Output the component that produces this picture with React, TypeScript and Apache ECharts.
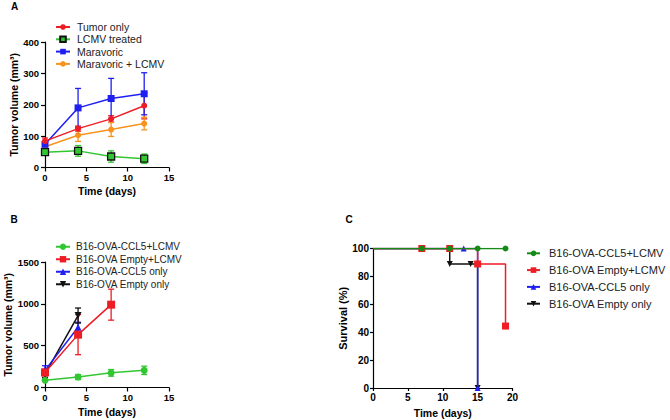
import React, { useEffect, useRef } from "react";
import * as echarts from "echarts";

// ---------- Panel A ----------
const daysA = [0, 4, 8, 12];
const tumorOnly = [84, 124, 155, 197];
const tumorOnlyErr = [10, 8, 10, 42];
const lcmvTreated = [49, 53, 35, 28];
const lcmvTreatedErr = [10, 17, 18, 15];
const maravoric = [74, 190, 220, 235];
const maravoricErr = [8, 62, 64, 67];
const maravoricLcmv = [66, 103, 121, 140];
const maravoricLcmvErr = [8, 20, 22, 20];

// ---------- Panel B ----------
const ccl5LcmvDays = [0, 4, 8, 12];
const ccl5Lcmv = [87, 125, 175, 205];
const ccl5LcmvErr = [15, 30, 40, 50];
const emptyLcmvDays = [0, 4, 8];
const emptyLcmv = [180, 632, 990];
const emptyLcmvErr = [40, 240, 185];
const ccl5OnlyDays = [0, 4];
const ccl5Only = [205, 720];
const ccl5OnlyErr = [55, 60];
const emptyOnlyDays = [0, 4];
const emptyOnly = [160, 860];
const emptyOnlyErr = [40, 90];

// ---------- Panel C (survival) ----------
const survCcl5LcmvT = [0, 7, 11, 15, 19];
const survCcl5Lcmv = [100, 100, 100, 100, 100];
const survEmptyLcmvT = [0, 7, 11, 15, 19];
const survEmptyLcmv = [100, 100, 100, 88.9, 44.4];
const survCcl5OnlyT = [0, 13, 15];
const survCcl5Only = [100, 100, 0];
const survEmptyOnlyT = [0, 11, 14, 15];
const survEmptyOnly = [100, 88.9, 88.9, 0];

const legendA = ["Tumor only", "LCMV treated", "Maravoric", "Maravoric + LCMV"];
const legendB = ["B16-OVA-CCL5+LCMV", "B16-OVA Empty+LCMV", "B16-OVA-CCL5 only", "B16-OVA Empty only"];
const legendC = legendB.map((n) => "C:" + n);

const RED = "#ee1c24";
const BLUE = "#1f1ff2";
const ORANGE = "#f7931e";
const GREEN = "#33c633";
const DGREEN = "#168a16";
const BLACK = "#111111";
const FONT = "Liberation Sans, Arial, sans-serif";

function pairs(xs: number[], ys: number[]) {
  return xs.map((x, i) => [x, ys[i]]);
}

function errSeries(xi: number, xs: number[], ys: number[], es: number[], color: string) {
  return {
    type: "custom",
    xAxisIndex: xi,
    yAxisIndex: xi,
    silent: true,
    z: 1,
    data: xs.map((x, i) => [x, ys[i] - es[i], ys[i] + es[i]]),
    renderItem: (_p: any, api: any) => {
      const x = api.value(0);
      const lo = api.coord([x, api.value(1)]);
      const hi = api.coord([x, api.value(2)]);
      const w = 3;
      const st = { stroke: color, lineWidth: 1.3 };
      return {
        type: "group",
        children: [
          { type: "line", shape: { x1: hi[0], y1: hi[1], x2: lo[0], y2: lo[1] }, style: st },
          { type: "line", shape: { x1: hi[0] - w, y1: hi[1], x2: hi[0] + w, y2: hi[1] }, style: st },
          { type: "line", shape: { x1: lo[0] - w, y1: lo[1], x2: lo[0] + w, y2: lo[1] }, style: st },
        ],
      };
    },
  };
}

function lineSeries(xi: number, name: string, xs: number[], ys: number[], color: string, symbol: string, size: number, extra: any = {}) {
  return {
    type: "line",
    name,
    xAxisIndex: xi,
    yAxisIndex: xi,
    data: pairs(xs, ys),
    symbol,
    symbolSize: size,
    showSymbol: true,
    lineStyle: { color, width: 1.5 },
    itemStyle: { color },
    z: 2,
    ...extra,
  };
}

function survSeries(name: string, xs: number[], ys: number[], markIdx: number[], color: string, symbol: string, size: number, z: number, extra: any = {}) {
  return {
    type: "line",
    name,
    xAxisIndex: 2,
    yAxisIndex: 2,
    step: "end",
    data: xs.map((x, i) => ({ value: [x, ys[i]], symbol: markIdx.includes(i) ? symbol : "none" })),
    symbol,
    symbolSize: size,
    lineStyle: { color, width: 1.5 },
    itemStyle: { color },
    z,
    ...extra,
  };
}

const plain = (v: number) => String(v);

const axisCommon = {
  axisLine: { show: true, onZero: false, lineStyle: { color: "#000", width: 1.2 } },
  axisTick: { show: true, length: 4, lineStyle: { color: "#000", width: 1.2 } },
  splitLine: { show: false },
  axisLabel: { color: "#000", fontWeight: "bold", fontSize: 9.5, fontFamily: FONT, formatter: plain },
  nameTextStyle: { color: "#000", fontWeight: "bold", fontSize: 10.5, fontFamily: FONT },
  nameLocation: "middle",
};

export default function App() {
  const ref = useRef<HTMLDivElement>(null);
  useEffect(() => {
    if (!ref.current) return;
    const chart = echarts.init(ref.current, undefined, { renderer: "svg" });
    const legText = (size: number, lh: number, pad: number) => ({
      color: "#222",
      fontSize: size,
      fontFamily: FONT,
      lineHeight: lh,
      padding: [0, 0, 0, pad],
    });
    chart.setOption({
      animation: false,
      backgroundColor: "#fff",
      grid: [
        { left: 45, top: 42, width: 124, height: 125.5 },
        { left: 45, top: 262, width: 124, height: 125.5 },
        { left: 373, top: 248.5, width: 139.5, height: 139.5 },
      ],
      xAxis: [
        { ...axisCommon, type: "value", gridIndex: 0, min: 0, max: 15, interval: 5, name: "Time (days)", nameGap: 18, axisLabel: { ...axisCommon.axisLabel, margin: 5 } },
        { ...axisCommon, type: "value", gridIndex: 1, min: 0, max: 15, interval: 5, name: "Time (days)", nameGap: 19, axisLabel: { ...axisCommon.axisLabel, margin: 5 } },
        { ...axisCommon, type: "value", gridIndex: 2, min: 0, max: 20, interval: 5, name: "Time (days)", nameGap: 19, axisTick: { ...axisCommon.axisTick, length: 3 }, axisLabel: { ...axisCommon.axisLabel, fontSize: 10, margin: 4 }, nameTextStyle: { ...axisCommon.nameTextStyle, fontSize: 10.5 } },
      ],
      yAxis: [
        { ...axisCommon, type: "value", gridIndex: 0, min: 0, max: 400, interval: 100, name: "Tumor volume (mm³)", nameGap: 23, axisLabel: { ...axisCommon.axisLabel, margin: 6 } },
        { ...axisCommon, type: "value", gridIndex: 1, min: 0, max: 1500, interval: 500, name: "Tumor volume (mm³)", nameGap: 28, axisLabel: { ...axisCommon.axisLabel, margin: 6 } },
        { ...axisCommon, type: "value", gridIndex: 2, min: 0, max: 100, interval: 20, name: "Survival (%)", nameGap: 20, axisTick: { ...axisCommon.axisTick, length: 3 }, axisLabel: { ...axisCommon.axisLabel, fontSize: 10, margin: 4 }, nameTextStyle: { ...axisCommon.nameTextStyle, fontSize: 11 } },
      ],
      legend: [
        { data: legendA, orient: "vertical", left: 50, top: 16, itemWidth: 14, itemHeight: 7, itemGap: 0.3, textStyle: legText(10.5, 12, 2), selectedMode: false },
        { data: legendB, orient: "vertical", left: 50, top: 235.5, itemWidth: 14, itemHeight: 8, itemGap: 0, textStyle: legText(10, 12.5, 1), selectedMode: false },
        { data: legendC, orient: "vertical", left: 521, top: 241.8, itemWidth: 13, itemHeight: 7, itemGap: 3.8, textStyle: legText(11, 13, 4), selectedMode: false, formatter: (n: string) => n.replace(/^C:/, "") },
      ],
      graphic: [
        { type: "text", left: 11, top: 1, style: { text: "A", font: `bold 10px ${FONT}`, fill: "#000" } },
        { type: "text", left: 10.5, top: 214, style: { text: "B", font: `bold 10px ${FONT}`, fill: "#000" } },
        { type: "text", left: 345.5, top: 214, style: { text: "C", font: `bold 10px ${FONT}`, fill: "#000" } },
      ],
      series: [
        // Panel A
        errSeries(0, daysA, tumorOnly, tumorOnlyErr, RED),
        errSeries(0, daysA, lcmvTreated, lcmvTreatedErr, GREEN),
        errSeries(0, daysA, maravoric, maravoricErr, BLUE),
        errSeries(0, daysA, maravoricLcmv, maravoricLcmvErr, ORANGE),
        lineSeries(0, legendA[3], daysA, maravoricLcmv, ORANGE, "circle", 6),
        lineSeries(0, legendA[1], daysA, lcmvTreated, GREEN, "rect", 7, { itemStyle: { color: GREEN, borderColor: BLACK, borderWidth: 1.3 } }),
        lineSeries(0, legendA[2], daysA, maravoric, BLUE, "rect", 7),
        lineSeries(0, legendA[0], daysA, tumorOnly, RED, "circle", 6),
        // Panel B
        errSeries(1, ccl5LcmvDays, ccl5Lcmv, ccl5LcmvErr, GREEN),
        errSeries(1, emptyLcmvDays, emptyLcmv, emptyLcmvErr, RED),
        errSeries(1, ccl5OnlyDays, ccl5Only, ccl5OnlyErr, BLUE),
        errSeries(1, emptyOnlyDays, emptyOnly, emptyOnlyErr, BLACK),
        lineSeries(1, legendB[3], emptyOnlyDays, emptyOnly, BLACK, "triangle", 7, { symbolRotate: 180 }),
        lineSeries(1, legendB[2], ccl5OnlyDays, ccl5Only, BLUE, "triangle", 7),
        lineSeries(1, legendB[1], emptyLcmvDays, emptyLcmv, RED, "rect", 8),
        lineSeries(1, legendB[0], ccl5LcmvDays, ccl5Lcmv, GREEN, "circle", 7),
        // Panel C
        survSeries(legendC[3], survEmptyOnlyT, survEmptyOnly, [1, 2, 3], BLACK, "triangle", 6, 2, { symbolRotate: 180 }),
        survSeries(legendC[2], survCcl5OnlyT, survCcl5Only, [1, 2], BLUE, "triangle", 6, 3),
        survSeries(legendC[1], survEmptyLcmvT, survEmptyLcmv, [1, 2, 3, 4], RED, "rect", 7, 4),
        survSeries(legendC[0], survCcl5LcmvT, survCcl5Lcmv, [1, 2, 3, 4], DGREEN, "circle", 6, 5),
      ],
    });
    return () => chart.dispose();
  }, []);
  return <div ref={ref} style={{ position: "fixed", left: 0, top: 0, width: 670, height: 420 }} />;
}
